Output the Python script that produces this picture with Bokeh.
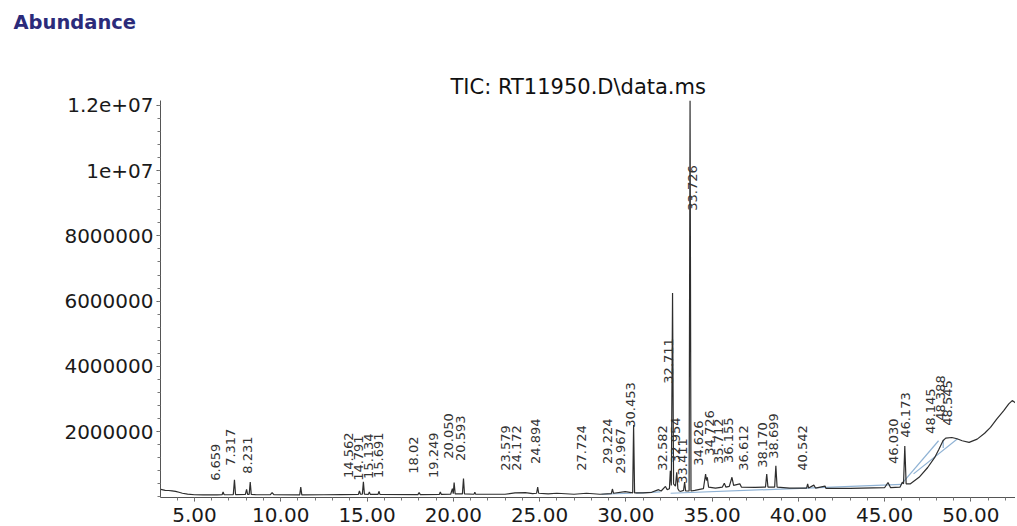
import math
from bokeh.plotting import figure
from bokeh.models import Range1d, FixedTicker, NumeralTickFormatter, Title, ColumnDataSource
from bokeh.core.properties import value
from bokeh.embed import file_html
from bokeh.resources import INLINE

# ---------------- data ----------------
rt = [3.05, 3.3, 3.5, 3.7, 3.9, 4.1, 4.3, 4.6, 5.0, 5.5, 6.3,
      6.60, 6.659, 6.72, 7.25, 7.317, 7.38, 7.95, 8.02, 8.08, 8.17, 8.231, 8.29,
      8.6, 9.4, 9.5, 9.6, 11.1, 11.16, 11.22, 12.5, 13.5,
      14.50, 14.562, 14.62, 14.73, 14.791, 14.85, 15.08, 15.134, 15.19,
      15.64, 15.691, 15.75, 17.95, 18.02, 18.09, 19.19, 19.249, 19.31,
      19.85, 19.95, 20.00, 20.050, 20.11, 20.53, 20.593, 20.65,
      21.2, 21.25, 21.3, 23.0, 23.579, 24.172, 24.6, 24.83, 24.894, 24.95,
      25.5, 26.0, 27.0, 27.724, 28.5, 29.16, 29.224, 29.29, 29.967,
      30.40, 30.453, 30.51, 31.0, 31.5, 31.9, 32.05, 32.3, 32.4,
      32.53, 32.582, 32.64, 32.711, 32.77, 32.88, 32.954, 33.02, 33.1, 33.2,
      33.35, 33.411, 33.47, 33.67, 33.726, 33.78, 34.0, 34.5,
      34.626, 34.68, 34.726, 34.8, 35.2, 35.6, 35.712, 35.8, 36.0,
      36.155, 36.25, 36.612, 36.7, 37.5, 38.10, 38.170, 38.24,
      38.63, 38.699, 38.77, 39.5, 40.48, 40.542, 40.6, 40.9, 41.0,
      41.55, 41.6, 43.0, 45.0, 45.2, 45.35, 45.9, 46.030, 46.10,
      46.173, 46.25, 46.5, 47.0, 47.5, 47.9, 48.145, 48.388, 48.545,
      48.9, 49.2, 49.5, 49.9, 50.37, 50.8, 51.14, 51.5, 51.91, 52.2, 52.4, 52.59]
abundance = [230e3, 200e3, 195e3, 185e3, 170e3, 140e3, 110e3, 85e3, 65e3, 60e3, 60e3,
             65e3, 150e3, 65e3, 70e3, 520e3, 70e3, 75e3, 230e3, 75e3, 75e3, 450e3, 75e3,
             65e3, 65e3, 130e3, 65e3, 60e3, 300e3, 60e3, 65e3, 70e3,
             75e3, 180e3, 80e3, 80e3, 460e3, 80e3, 75e3, 150e3, 75e3,
             75e3, 170e3, 75e3, 70e3, 130e3, 70e3, 75e3, 150e3, 75e3,
             80e3, 250e3, 100e3, 440e3, 90e3, 90e3, 560e3, 90e3,
             80e3, 140e3, 80e3, 80e3, 120e3, 130e3, 100e3, 110e3, 300e3, 110e3,
             90e3, 110e3, 80e3, 110e3, 80e3, 100e3, 240e3, 110e3, 160e3,
             120e3, 2.2e6, 120e3, 120e3, 140e3, 220e3, 180e3, 320e3, 220e3,
             250e3, 800e3, 350e3, 6.25e6, 400e3, 330e3, 750e3, 250e3, 180e3, 170e3,
             200e3, 450e3, 180e3, 180e3, 12.15e6, 180e3, 200e3, 250e3,
             700e3, 500e3, 600e3, 300e3, 270e3, 300e3, 420e3, 300e3, 320e3,
             600e3, 350e3, 400e3, 300e3, 290e3, 300e3, 700e3, 300e3,
             300e3, 950e3, 300e3, 270e3, 270e3, 400e3, 270e3, 360e3, 270e3,
             330e3, 260e3, 260e3, 280e3, 440e3, 280e3, 300e3, 450e3, 400e3,
             1.56e6, 400e3, 400e3, 600e3, 900e3, 1.2e6, 1.45e6, 1.72e6, 1.8e6,
             1.82e6, 1.78e6, 1.72e6, 1.67e6, 1.77e6, 1.95e6, 2.13e6, 2.38e6, 2.64e6, 2.85e6, 2.95e6, 2.88e6]

peak_labels = ["6.659", "7.317", "8.231", "14.562", "14.791", "15.134", "15.691",
               "18.02", "19.249", "20.050", "20.593", "23.579", "24.172", "24.894",
               "27.724", "29.224", "29.967", "30.453", "32.582", "32.711", "32.954",
               "33.411", "33.726", "34.626", "34.726", "35.712", "36.155", "36.612",
               "38.170", "38.699", "40.542", "46.030", "46.173", "48.145", "48.388", "48.545"]
label_rt = [6.22, 7.09, 8.06, 13.93, 14.51, 15.09, 15.67,
            17.70, 18.86, 19.74, 20.42, 23.03, 23.67, 24.77,
            27.42, 28.92, 29.70, 30.28, 32.13, 32.48, 32.88,
            33.29, 33.87, 34.22, 34.86, 35.38, 35.96, 36.83,
            37.93, 38.57, 40.25, 45.52, 46.22, 47.67, 48.25, 48.65]
label_abundance = [0.49e6, 0.95e6, 0.71e6, 0.58e6, 0.49e6, 0.55e6, 0.58e6,
                   0.71e6, 0.58e6, 1.17e6, 1.10e6, 0.80e6, 0.80e6, 1.01e6,
                   0.80e6, 1.01e6, 0.71e6, 2.12e6, 0.80e6, 3.47e6, 1.04e6,
                   0.40e6, 8.77e6, 0.95e6, 1.26e6, 1.01e6, 1.04e6, 0.80e6,
                   0.89e6, 1.17e6, 0.80e6, 1.01e6, 1.81e6, 1.93e6, 2.33e6, 2.18e6]

# integration baselines (blue)
base_rt = [[28.6, 30.3], [30.6, 32.0], [32.6, 46.0], [45.93, 48.13], [46.68, 49.23], [48.4, 48.4]]
base_abundance = [[80e3, 110e3], [115e3, 150e3], [110e3, 380e3], [360e3, 1.72e6], [705e3, 1.78e6], [1.5e6, 1.75e6]]

x_ticks = [5, 10, 15, 20, 25, 30, 35, 40, 45, 50]
x_minor = [v for v in range(4, 53)]
y_ticks = [2e6, 4e6, 6e6, 8e6, 10e6, 12e6]
y_tick_labels = ["2000000", "4000000", "6000000", "8000000", "1e+07", "1.2e+07"]
y_minor = [i * 4e5 for i in range(0, 31)]

title_text = "TIC: RT11950.D\\data.ms"
y_title = "Abundance"

# ---------------- figure ----------------
p = figure(width=1015, height=526, output_backend="svg", toolbar_location=None,
           x_range=Range1d(3.03, 52.59), y_range=Range1d(-2e4, 1.215e7),
           min_border_left=160, min_border_right=0, min_border_top=100, min_border_bottom=29)
p.title = None
p.grid.visible = False
p.outline_line_color = None
p.background_fill_color = "white"
p.border_fill_color = "white"

p.multi_line(xs=base_rt, ys=base_abundance, line_color="#8fb2d4", line_width=1.2)
p.line(rt, abundance, line_color="#2e2e2e", line_width=1.2)

src = ColumnDataSource(dict(x=label_rt, y=label_abundance, t=peak_labels))
p.text(x="x", y="y", text="t", source=src, angle=math.pi / 2,
       text_align="left", text_baseline="middle",
       text_font=value("DejaVu Sans"), text_font_size="13px", text_color="#333333")

# axes
xa = p.xaxis[0]
xa.ticker = FixedTicker(ticks=x_ticks, minor_ticks=x_minor)
xa.formatter = NumeralTickFormatter(format="0.00")
ya = p.yaxis[0]
ya.ticker = FixedTicker(ticks=y_ticks, minor_ticks=y_minor)
ya.major_label_overrides = {float(k): v for k, v in zip(y_ticks, y_tick_labels)}
for ax in (xa, ya):
    ax.axis_line_color = "#555555"
    ax.major_tick_line_color = "#555555"
    ax.minor_tick_line_color = "#777777"
    ax.major_tick_in = 0
    ax.minor_tick_in = 0
    ax.major_tick_out = 4
    ax.minor_tick_out = 3
    ax.major_label_text_font = "DejaVu Sans"
    ax.major_label_text_font_size = "20px"
    ax.major_label_text_color = "#1a1a1a"
xa.major_label_standoff = 6
ya.major_label_standoff = 3

# titles stacked upward from the frame: chart title, spacer, y-quantity name
p.add_layout(Title(text=title_text, align="left", offset=290, standoff=4,
                   text_font="DejaVu Sans", text_font_size="21px",
                   text_font_style="normal", text_color="#111111"), "above")
p.add_layout(Title(text=" ", align="left", standoff=32, text_font_size="1px"), "above")
p.add_layout(Title(text=y_title, align="left", offset=-147, standoff=0,
                   vertical_align="top",
                   text_font="DejaVu Sans", text_font_size="19.5px",
                   text_font_style="bold", text_color="#2b2b7a"), "above")

open("out.html", "w").write(file_html(p, INLINE))
